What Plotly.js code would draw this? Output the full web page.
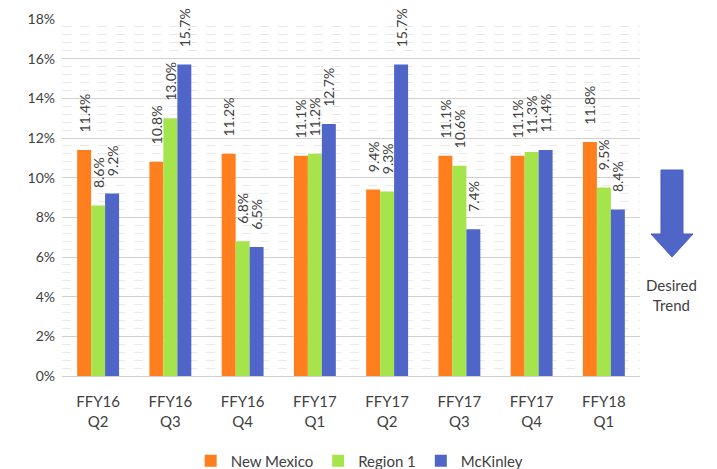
<!DOCTYPE html>
<html>
<head>
<meta charset="utf-8">
<script src="https://cdn.plot.ly/plotly-3.0.1.min.js"></script>
<style>html,body{margin:0;padding:0;background:#fff;}#chart{width:717px;height:469px;}</style>
</head>
<body>
<div id="chart"></div>
<script>
const categories = ["FFY16<br>Q2","FFY16<br>Q3","FFY16<br>Q4","FFY17<br>Q1","FFY17<br>Q2","FFY17<br>Q3","FFY17<br>Q4","FFY18<br>Q1"];
const newMexico = [0.114, 0.108, 0.112, 0.111, 0.094, 0.111, 0.111, 0.118];
const region1   = [0.086, 0.130, 0.068, 0.112, 0.093, 0.106, 0.113, 0.095];
const mckinley  = [0.092, 0.157, 0.065, 0.127, 0.157, 0.074, 0.114, 0.084];
const seriesNames = ["New Mexico", "Region 1", "McKinley"];
const colors = ["#FF7F1E", "#A6E44C", "#4F65C8"];

const font = "Lato, 'Open Sans', sans-serif";
function bar(y, i) {
  return {
    type: 'bar', x: categories, y: y, name: seriesNames[i],
    marker: {color: colors[i]},
    texttemplate: '\u00a0\u00a0\u00a0\u00a0%{y:.1%}', textposition: 'outside', textangle: -90,
    constraintext: 'none', cliponaxis: false,
    textfont: {family: font, size: 14, color: '#404040'},
    hoverinfo: 'x+y'
  };
}
const data = [bar(newMexico,0), bar(region1,1), bar(mckinley,2)];

const layout = {
  width: 717, height: 469,
  margin: {l: 62, r: 77, t: 19, b: 93, autoexpand: false},
  paper_bgcolor: '#fff', plot_bgcolor: '#fff',
  barmode: 'group', bargap: 0.42, bargroupgap: 0,
  font: {family: font, size: 14, color: '#404040'},
  showlegend: true,
  legend: {orientation: 'h', x: 0.515, xanchor: 'center', y: -0.238, yanchor: 'middle',
           font: {family: font, size: 15, color: '#404040'}, itemwidth: 30, traceorder: 'normal'},
  xaxis: {type: 'category', showgrid: false, zeroline: false, showline: false, automargin: false,
          ticks: 'outside', ticklen: 12, tickcolor: 'rgba(0,0,0,0)',
          tickfont: {family: font, size: 15, color: '#404040'}},
  yaxis: {range: [0, 0.18], dtick: 0.02, tickformat: '.0%', showgrid: true, automargin: false,
          gridcolor: '#d0d0d0', gridwidth: 1, zeroline: true, zerolinecolor: '#d0d0d0',
          showline: false, ticks: '', ticklabelstandoff: 6,
          tickfont: {family: font, size: 14, color: '#404040'},
          minor: {dtick: 0.004, showgrid: true, gridcolor: '#e9e9e9', griddash: 'dash', gridwidth: 1}},
  shapes: [{
    type: 'path', xref: 'paper', yref: 'paper',
    path: 'M 1.0363 0.577 L 1.0744 0.577 L 1.0744 0.3978 L 1.0917 0.3978 L 1.0554 0.3333 L 1.0190 0.3978 L 1.0363 0.3978 Z',
    fillcolor: '#4F65C8', line: {color: '#4A60BE', width: 1}
  }],
  annotations: [{
    xref: 'paper', yref: 'paper', x: 1.055, y: 0.226, xanchor: 'center', yanchor: 'middle',
    text: 'Desired<br>Trend', showarrow: false, font: {family: font, size: 15, color: '#404040'}
  }]
};
Plotly.newPlot('chart', data, layout, {displayModeBar: false, staticPlot: true});
</script>
</body>
</html>
